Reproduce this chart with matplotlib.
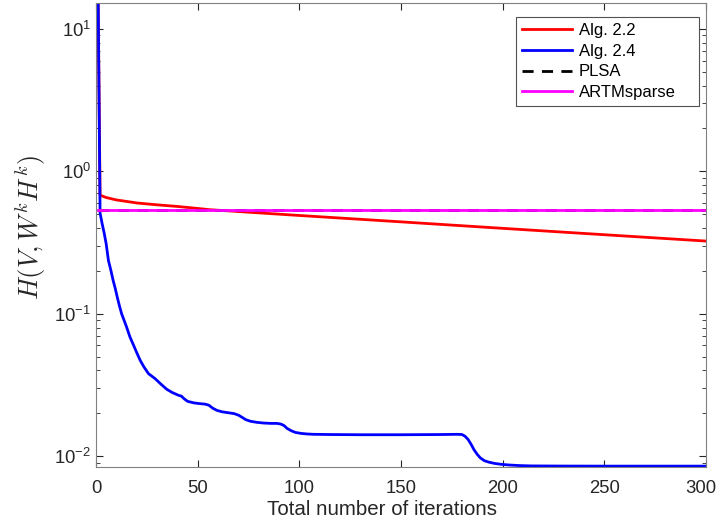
import matplotlib
matplotlib.use('Agg')
import matplotlib.pyplot as plt
from matplotlib.transforms import ScaledTranslation

plt.rcParams['font.family'] = ['Liberation Sans', 'DejaVu Sans']
plt.rcParams['mathtext.fontset'] = 'cm'

# values
alg22_iter = [1, 2, 5, 10, 15, 20, 30, 40, 50, 56, 100, 150, 200, 250, 300]
alg22_val = [18, 0.68, 0.655, 0.63, 0.615, 0.60, 0.582, 0.567, 0.549, 0.538, 0.49, 0.442,
             0.398, 0.359, 0.324]

alg24_iter = [1, 2, 3, 4, 5, 6.1, 7.2, 8.4, 9.5, 10.5, 11.5, 12.6, 13.8, 15, 16.7, 18.5,
              20, 21.7, 23.5, 25.8, 29, 32, 34.8, 37.5, 40.5, 42, 43.5, 45, 48, 51, 53.7,
              55.5, 57.5, 59.4, 62, 64, 66, 68, 70.1, 72, 73.5, 75.9, 79, 82.4, 86, 89,
              91, 92.5, 93.9, 96, 98, 101, 104, 107, 115, 130, 150, 170, 177.7, 180, 181.5,
              183, 184.5, 185.9, 187.5, 189, 191, 193, 196, 199, 203, 208, 213.8, 230, 250,
              275, 300]
alg24_val = [20, 0.51, 0.43, 0.37, 0.31, 0.237, 0.205, 0.172, 0.15, 0.13, 0.114, 0.1,
             0.09, 0.081, 0.0687, 0.06, 0.0535, 0.0472, 0.0425, 0.038, 0.0351, 0.032,
             0.0295, 0.028, 0.0268, 0.0264, 0.0252, 0.0243, 0.0237, 0.0234, 0.0232, 0.0228,
             0.0217, 0.021, 0.0205, 0.0203, 0.0201, 0.0199, 0.0194, 0.0187, 0.0181, 0.0176,
             0.0173, 0.0171, 0.017, 0.017, 0.0168, 0.0164, 0.0157, 0.0151, 0.0147, 0.01445,
             0.01432, 0.01425, 0.0142, 0.01415, 0.01415, 0.0142, 0.01425, 0.0142, 0.0138,
             0.0131, 0.0121, 0.0111, 0.0103, 0.00973, 0.0093, 0.0091, 0.0089, 0.00878,
             0.00868, 0.0086, 0.00855, 0.00853, 0.00852, 0.00852, 0.00852]

plsa_iter = [1, 300]
plsa_val = [0.533, 0.533]

artm_iter = [1, 300]
artm_val = [0.538, 0.538]

fig = plt.figure(figsize=(7.17, 5.29), dpi=100)
ax = fig.add_axes([0.1339, 0.1172, 0.8508, 0.8771])

ax.semilogy(alg22_iter, alg22_val, color='#ff0000', lw=2, label='Alg. 2.2')
ax.semilogy(alg24_iter, alg24_val, color='#0000ff', lw=2, label='Alg. 2.4')
ax.semilogy(plsa_iter, plsa_val, color='black', lw=2, ls=(0, (4, 3)), label='PLSA')
ax.semilogy(artm_iter, artm_val, color='#ff00ff', lw=2, label='ARTMsparse')

ax.set_xlim(0, 300)
ax.set_ylim(0.0084, 15.2)
ax.set_xticks([0, 50, 100, 150, 200, 250, 300])

gray = '#808080'
for s in ax.spines.values():
    s.set_color(gray)
ax.tick_params(which='both', direction='in', top=True, right=True, color='#262626',
               labelcolor='#262626', labelsize=13.3)
ax.tick_params(which='major', length=5)
ax.tick_params(which='minor', length=3)
ax.tick_params(axis='x', which='minor', bottom=False, top=False)
ax.tick_params(axis='x', pad=9)

# last x tick label sits a bit left, like the original
last = ax.xaxis.get_major_ticks()[-1].label1
last.set_transform(last.get_transform() + ScaledTranslation(-0.05, 0, fig.dpi_scale_trans))

ax.set_xlabel('Total number of iterations', fontsize=14.8, color='#262626')
ax.xaxis.set_label_coords(0.469, -0.072)
ax.set_ylabel(r'$H(V,W^kH^k)$', fontsize=19, color='#262626')
ax.yaxis.set_label_coords(-0.079, 0.516)

leg = ax.legend(loc='upper left', bbox_to_anchor=(0.6885, 0.0, 0.3, 0.97), mode='expand',
                fontsize=12, frameon=True, fancybox=False, handlelength=3.0,
                handletextpad=0.4, borderpad=0.35, labelspacing=0.35, borderaxespad=0)
leg.get_frame().set_edgecolor('#262626')
leg.get_frame().set_linewidth(0.8)

fig.savefig('out.png', dpi=100)
